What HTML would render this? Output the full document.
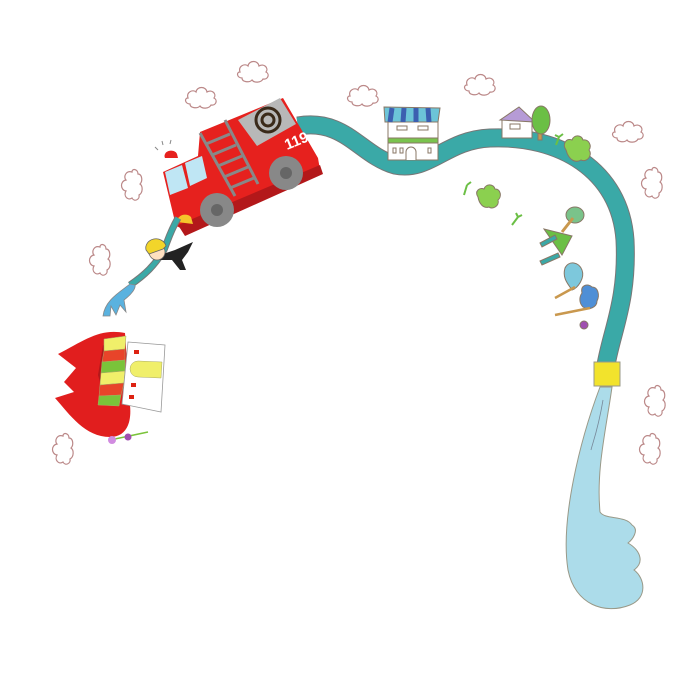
<!DOCTYPE html>
<html><head><meta charset="utf-8"><style>html,body{margin:0;padding:0;background:#fff}svg{display:block}</style></head>
<body>
<svg width="700" height="700" viewBox="0 0 700 700" xmlns="http://www.w3.org/2000/svg">
<defs>
<g id="cl"><path d="M0,0 c-2,-6 5,-9 8,-6 c1,-6 10,-6 11,0 c5,-3 10,2 7,6 c4,2 2,8 -3,7 c-2,4 -9,4 -11,1 c-3,3 -10,2 -10,-2 c-5,0 -6,-6 -2,-6z" fill="#fff" stroke="#b88" stroke-width="1.2"/></g>
<g id="clv"><path d="M0,0 c-6,-2 -9,5 -6,8 c-6,1 -6,10 0,11 c-3,5 2,10 6,7 c2,4 8,2 7,-3 c4,-2 4,-9 1,-11 c3,-3 2,-10 -2,-10 c0,-5 -6,-6 -6,-2z" fill="#fff" stroke="#b88" stroke-width="1.2"/></g>
</defs>
<!-- clouds -->
<use href="#cl" x="240" y="72"/>
<use href="#cl" x="188" y="98" transform="scale(1)"/>
<use href="#cl" x="350" y="96"/>
<use href="#cl" x="467" y="85"/>
<use href="#cl" x="615" y="132"/>
<use href="#clv" x="132" y="172"/>
<use href="#clv" x="100" y="247"/>
<use href="#clv" x="652" y="170"/>
<use href="#clv" x="655" y="388"/>
<use href="#clv" x="650" y="436"/>
<use href="#clv" x="63" y="436"/>

<!-- water spray -->
<path d="M600,387 L612,387 C606,430 596,470 600,512 C605,520 625,515 632,525 C640,530 632,540 628,543 C640,550 645,562 634,570 C645,578 648,598 630,605 C605,615 575,605 568,570 C560,520 580,440 600,387Z" fill="#acdcea" stroke="#998" stroke-width="1"/>
<path d="M603,400 C598,430 592,445 591,450" stroke="#789" fill="none" stroke-width="0.8"/>
<!-- hose -->
<path d="M298,126 C345,118 360,155 395,165 C430,172 445,140 490,138 C560,135 620,170 625,240 C628,300 612,330 606,365" fill="none" stroke="#777" stroke-width="19"/>
<path d="M298,126 C345,118 360,155 395,165 C430,172 445,140 490,138 C560,135 620,170 625,240 C628,300 612,330 606,365" fill="none" stroke="#3aa9a7" stroke-width="17"/>
<rect x="594" y="362" width="26" height="24" fill="#f2e32c" stroke="#998" stroke-width="1"/>

<!-- left house -->
<g stroke="#876" stroke-width="1">
<rect x="388" y="120" width="50" height="40" fill="#fff"/>
<path d="M384,107 L440,108 L438,122 L385,122Z" fill="#6cc4d8"/>
<path d="M392,108 l-2,14 M404,108 l-1,14 M416,108 l0,14 M428,108 l1,14" stroke="#3c5fb0" stroke-width="5"/>
<rect x="388" y="138" width="50" height="5" fill="#7ac34e"/>
<rect x="397" y="126" width="10" height="4" fill="#fff"/><rect x="418" y="126" width="10" height="4" fill="#fff"/>
<path d="M406,160 v-8 a5,5 0 0 1 10,0 v8" fill="#fff"/>
<rect x="393" y="148" width="3" height="5" fill="#fff"/><rect x="400" y="148" width="3" height="5" fill="#fff"/><rect x="428" y="148" width="3" height="5" fill="#fff"/>
</g>
<!-- right house and tree -->
<g stroke="#876" stroke-width="1">
<rect x="502" y="120" width="30" height="18" fill="#fff"/>
<path d="M500,120 L519,107 L535,122Z" fill="#b69bd6"/>
<rect x="510" y="124" width="10" height="5" fill="#fff"/>
<rect x="538" y="125" width="4" height="15" fill="#c9984e"/>
<ellipse cx="541" cy="120" rx="9" ry="14" fill="#6bbf45"/>
<path d="M566,150 c-4,-6 0,-12 6,-10 c2,-6 10,-5 11,0 c6,-1 9,6 6,10 c4,5 -2,13 -8,10 c-5,3 -12,1 -15,-10z" fill="#8bd04f"/>
<path d="M478,197 c-4,-6 2,-10 6,-8 c2,-6 10,-5 11,0 c6,0 7,8 3,11 c2,6 -6,10 -9,7 c-6,2 -10,-4 -11,-10z" fill="#8bd04f"/>
</g>
<path d="M556,145 l3,-8 M559,137 l4,-3 M559,137 l-4,-2 M464,195 l3,-10 M467,185 l4,-3 M512,225 l6,-8 M518,217 l4,-2 M518,217 l-2,-4" stroke="#6bbf45" stroke-width="2" fill="none"/>
<!-- fallen tree/house -->
<g stroke="#876" stroke-width="1">
<ellipse cx="575" cy="215" rx="9" ry="8" fill="#7ac38a"/>
<path d="M573,218 L562,232" stroke="#c9984e" stroke-width="3"/>
<path d="M544,229 L572,236 L562,255Z" fill="#6bbf45"/>
<path d="M540,243 l15,-8 l2,4 l-15,8z M540,261 l18,-8 l2,4 l-18,8z" fill="#3aa9a7"/>
<path d="M565,268 c4,-8 14,-6 17,2 c3,8 -4,18 -10,20 c-4,-6 -10,-12 -7,-22z" fill="#7dc8dc"/>
<path d="M555,298 L575,287" stroke="#c9984e" stroke-width="2.5"/>
<path d="M582,293 c-2,-8 6,-10 10,-6 c6,0 8,8 5,14 c0,6 -8,10 -14,6 c-4,-4 -4,-10 -1,-14z" fill="#4f8fd6"/>
<path d="M555,315 L590,308" stroke="#c9984e" stroke-width="2.5"/>
<circle cx="584" cy="325" r="4" fill="#a04fb0"/>
</g>

<!-- fire truck -->
<g stroke="#7a2" stroke-width="0">
<path d="M163,172 L198,156 L200,132 L283,98 L318,158 L320,170 L190,232 L176,226Z" fill="#e6211e"/>
<path d="M178,225 L320,165 L323,174 L185,236Z" fill="#b3181a"/>
<path d="M238,120 L280,98 L296,124 L257,146Z" fill="#b8b8b8"/>
<circle cx="268" cy="120" r="12" fill="none" stroke="#3a2a1a" stroke-width="3"/>
<circle cx="268" cy="120" r="6" fill="none" stroke="#3a2a1a" stroke-width="3"/>
<path d="M165,172 L182,165 L188,188 L170,195Z" fill="#bfe6f4"/>
<path d="M185,163 L202,156 L207,178 L190,186Z" fill="#bfe6f4"/>
<g stroke="#888" stroke-width="3" fill="none">
<path d="M200,133 L235,196 M225,120 L258,184"/>
<path d="M206,144 l24,-10 M212,155 l24,-10 M218,166 l24,-10 M224,177 l24,-10 M230,188 l24,-10"/>
</g>
<circle cx="217" cy="210" r="17" fill="#888"/><circle cx="217" cy="210" r="6" fill="#666"/>
<circle cx="286" cy="173" r="17" fill="#888"/><circle cx="286" cy="173" r="6" fill="#666"/>
<path d="M165,158 a6,5 0 0 1 12,-4 l1,4z" fill="#e6211e"/>
<path d="M158,150 l-3,-3 M163,145 l-1,-4 M170,144 l1,-4" stroke="#888" stroke-width="1"/>
<path d="M177,222 a8,7 0 0 1 14,-5 l2,7z" fill="#f5c52b"/>
<text x="287" y="150" transform="rotate(-22 287 150)" font-family="Liberation Sans, sans-serif" font-weight="bold" font-size="15" fill="#fff">119</text>
</g>
<!-- firefighter -->
<path d="M178,218 C170,232 168,240 164,250 C155,265 145,275 130,285" stroke="#777" stroke-width="7" fill="none"/>
<path d="M178,218 C170,232 168,240 164,250 C155,265 145,275 130,285" stroke="#3aa9a7" stroke-width="5" fill="none"/>
<path d="M160,255 l15,-5 l18,-8 l-5,10 l-6,8 l4,10 l-6,0 l-8,-10 l-12,0z" fill="#222"/>
<circle cx="157" cy="252" r="8" fill="#ffe0c0" stroke="#666" stroke-width="0.8"/>
<path d="M146,250 a10,9 0 0 1 20,-4 l-3,3 l-14,5z" fill="#f2d52a" stroke="#666" stroke-width="0.8"/>
<path d="M130,284 C120,292 105,300 103,316 L110,316 L111,306 L116,315 L120,305 L126,312 L124,300 C132,294 136,288 135,285Z" fill="#5ab2df" stroke="#888" stroke-width="0.8"/>

<!-- burning building -->
<path d="M125,333 C100,328 85,340 58,354 L76,368 L64,382 L74,392 L55,398 C70,415 85,437 110,437 C125,437 132,425 130,405Z" fill="#e11e1e"/>
<path d="M103,345 L98,375 L105,400 L115,405 L110,350Z" fill="#b3181a"/>
<g stroke="#aa6" stroke-width="0.5">
<path d="M104,339 L126,336 L125,349 L104,351Z" fill="#f0ef6a"/>
<path d="M104,351 L125,349 L125,360 L102,362Z" fill="#e8442a"/>
<path d="M102,362 L125,360 L125,371 L101,373Z" fill="#7ac33a"/>
<path d="M101,373 L125,371 L124,383 L100,385Z" fill="#f0ef6a"/>
<path d="M100,385 L124,383 L121,395 L99,396Z" fill="#e8442a"/>
<path d="M99,396 L121,395 L119,406 L98,405Z" fill="#7ac33a"/>
</g>
<path d="M128,342 L165,345 L161,412 L122,404Z" fill="#fff" stroke="#999" stroke-width="0.8"/>
<path d="M162,362 L138,361 a8,8 0 0 0 0,16 L161,378Z" fill="#f0ef6a" stroke="#aa6" stroke-width="0.5"/>
<rect x="134" y="350" width="5" height="4" fill="#d21"/><rect x="131" y="383" width="5" height="4" fill="#d21"/><rect x="129" y="395" width="5" height="4" fill="#d21"/>
<path d="M110,440 L148,432" stroke="#7ac33a" stroke-width="1.5"/>
<circle cx="112" cy="440" r="4" fill="#d18be0"/><circle cx="128" cy="437" r="3.5" fill="#a04fb0"/>
</svg>
</body></html>
